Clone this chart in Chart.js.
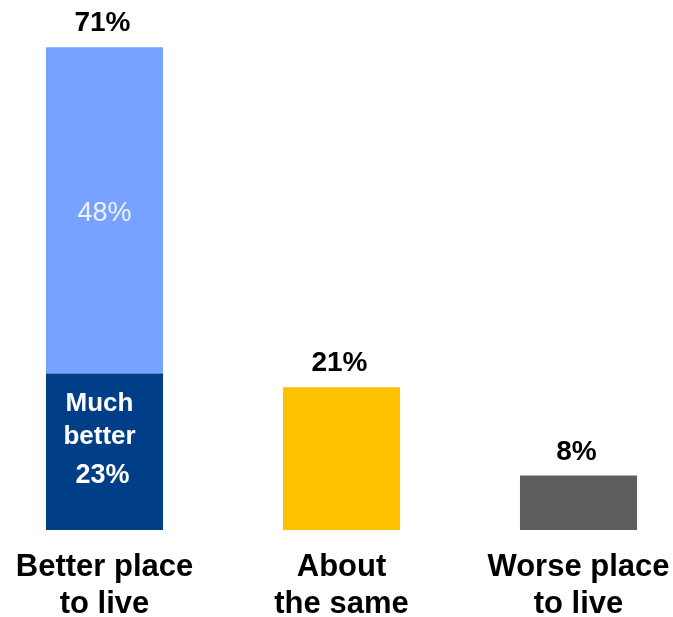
<!DOCTYPE html>
<html>
<head>
<meta charset="utf-8">
<script src="https://cdn.jsdelivr.net/npm/chart.js@4"></script>
<style>
  html, body { margin: 0; padding: 0; background: #fff; overflow: hidden; }
  #wrap { width: 711px; height: 642px; margin-left: -14px; }
</style>
</head>
<body>
<div id="wrap"><canvas id="chart"></canvas></div>
<script>
// data
const categories = [["Better place", "to live"], ["About", "the same"], ["Worse place", "to live"]];
const baseValues = [23, 21, 8];      // much better / about the same / worse
const upperValues = [48, null, null]; // rest of "better"
const innerLabel = ["Much", "better"];

const FONT = "'Liberation Sans', Arial, sans-serif";
const baseColors = ["#003F87", "#FFC000", "#5E5E5E"];
const upperColor = "#78A2FF";

// draws value labels from bar elements
const valueLabels = {
  id: "valueLabels",
  afterDatasetsDraw(chart) {
    const ctx = chart.ctx;
    const base = chart.getDatasetMeta(0).data;
    const upper = chart.getDatasetMeta(1).data;
    ctx.save();
    ctx.textAlign = "center";
    base.forEach((bar, i) => {
      const total = baseValues[i] + (upperValues[i] || 0);
      const top = upperValues[i] ? upper[i].y : bar.y;
      ctx.fillStyle = "#000";
      ctx.font = "bold 28px " + FONT;
      ctx.textBaseline = "alphabetic";
      ctx.fillText(total + "%", bar.x - 2, top - 16);
    });
    // inner labels on first bar
    const b = base[0], u = upper[0];
    const midU = (u.y + u.base) / 2;
    ctx.textBaseline = "middle";
    ctx.fillStyle = "#EEF2FF";
    ctx.font = "27px " + FONT;
    ctx.fillText(upperValues[0] + "%", b.x, midU + 3);
    const midB = (b.y + b.base) / 2;
    ctx.fillStyle = "#fff";
    ctx.font = "bold 26px " + FONT;
    ctx.fillText(innerLabel[0], b.x - 5, midB - 48);
    ctx.fillText(innerLabel[1], b.x - 5, midB - 15);
    ctx.font = "bold 27px " + FONT;
    ctx.fillText(baseValues[0] + "%", b.x - 2, midB + 24);
    ctx.restore();
  }
};

new Chart(document.getElementById("chart"), {
  type: "bar",
  data: {
    labels: categories,
    datasets: [
      { data: baseValues, backgroundColor: baseColors },
      { data: upperValues, backgroundColor: upperColor }
    ]
  },
  options: {
    responsive: true,
    maintainAspectRatio: false,
    animation: false,
    datasets: { bar: { categoryPercentage: 1, barPercentage: 0.494 } },
    layout: { padding: { top: 20, left: 0, right: 0, bottom: 0 } },
    plugins: { legend: { display: false }, tooltip: { enabled: false } },
    scales: {
      x: {
        stacked: true,
        offset: true,
        grid: { display: false, drawTicks: false },
        border: { display: false },
        ticks: {
          color: "#000",
          padding: 19,
          maxRotation: 0,
          autoSkip: false,
          font: { family: FONT, size: 31, weight: "bold", lineHeight: 37 / 31 }
        }
      },
      y: {
        stacked: true,
        min: 0,
        max: 75,
        display: false
      }
    }
  },
  plugins: [valueLabels]
});
</script>
</body>
</html>
